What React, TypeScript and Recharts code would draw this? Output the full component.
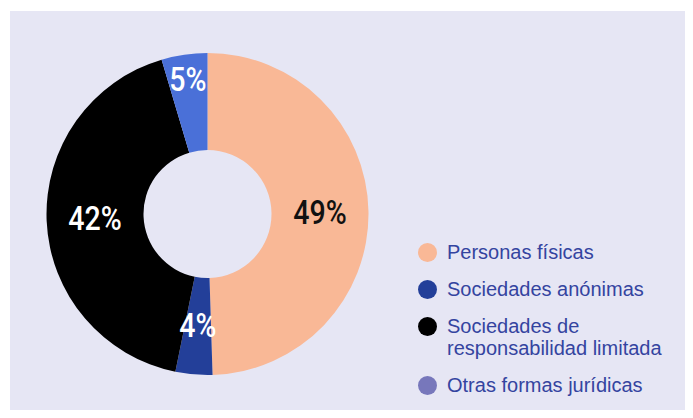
import React from 'react';
import { PieChart, Pie, Cell, Legend } from 'recharts';

const categories = [
  'Personas físicas',
  'Sociedades anónimas',
  'Sociedades de responsabilidad limitada',
  'Otras formas jurídicas',
];
const shares = [49.5, 3.7, 42.2, 4.6];
const pctLabels = ['49%', '4%', '42%', '5%'];

const sliceColors = ['#f9b896', '#233f99', '#000000', '#4a70d8'];
const legendColors = ['#f9b896', '#233f99', '#000000', '#7777bb'];
const labelColors = ['#111111', '#ffffff', '#ffffff', '#ffffff'];

const data = categories.map((name, i) => ({ name, value: shares[i] }));

const RAD = Math.PI / 180;

const renderLabel = (props: any) => {
  const { cx, cy, midAngle, innerRadius, outerRadius, index } = props;
  const base = (innerRadius + outerRadius) / 2;
  const r = index === 3 ? outerRadius - 25 : base;
  const x = cx + r * Math.cos(-midAngle * RAD);
  const y = cy + r * Math.sin(-midAngle * RAD);
  return (
    <text
      x={0}
      y={0}
      transform={`translate(${x},${y}) scale(0.84,1)`}
      fill={labelColors[index]}
      textAnchor="middle"
      dominantBaseline="central"
      fontFamily="Roboto, sans-serif"
      fontWeight={500}
      fontSize={34}
    >
      {pctLabels[index]}
    </text>
  );
};

const renderLegend = () => (
  <div style={{ fontFamily: "'Liberation Sans', Arial, sans-serif", fontSize: 20, color: '#3444a0' }}>
    {categories.map((c, i) => (
      <div key={c} style={{ display: 'flex', alignItems: 'flex-start', marginBottom: 15 }}>
        <div
          style={{
            width: 19,
            height: 19,
            borderRadius: '50%',
            background: legendColors[i],
            marginTop: 1.5,
            marginRight: 10,
            flex: '0 0 auto',
          }}
        />
        <div style={{ width: 235, lineHeight: '22px' }}>{c}</div>
      </div>
    ))}
  </div>
);

export default function App() {
  return (
    <div style={{ margin: -8, width: 693, height: 418, background: '#ffffff', position: 'relative', overflow: 'hidden' }}>
      <div style={{ position: 'absolute', left: 10, top: 11, width: 683, height: 407, background: '#e6e6f4' }}>
        <PieChart width={683} height={407} margin={{ top: 0, right: 0, bottom: 0, left: 0 }}>
          <Pie
            data={data}
            dataKey="value"
            nameKey="name"
            cx={197.5}
            cy={203}
            innerRadius={64}
            outerRadius={161}
            startAngle={90}
            endAngle={-270}
            stroke="none"
            labelLine={false}
            label={renderLabel}
            isAnimationActive={false}
          >
            {data.map((d, i) => (
              <Cell key={d.name} fill={sliceColors[i]} />
            ))}
          </Pie>
          <Legend
            content={renderLegend}
            layout="vertical"
            align="right"
            verticalAlign="top"
            wrapperStyle={{ left: 408, top: 230, width: 275 }}
          />
        </PieChart>
      </div>
    </div>
  );
}
